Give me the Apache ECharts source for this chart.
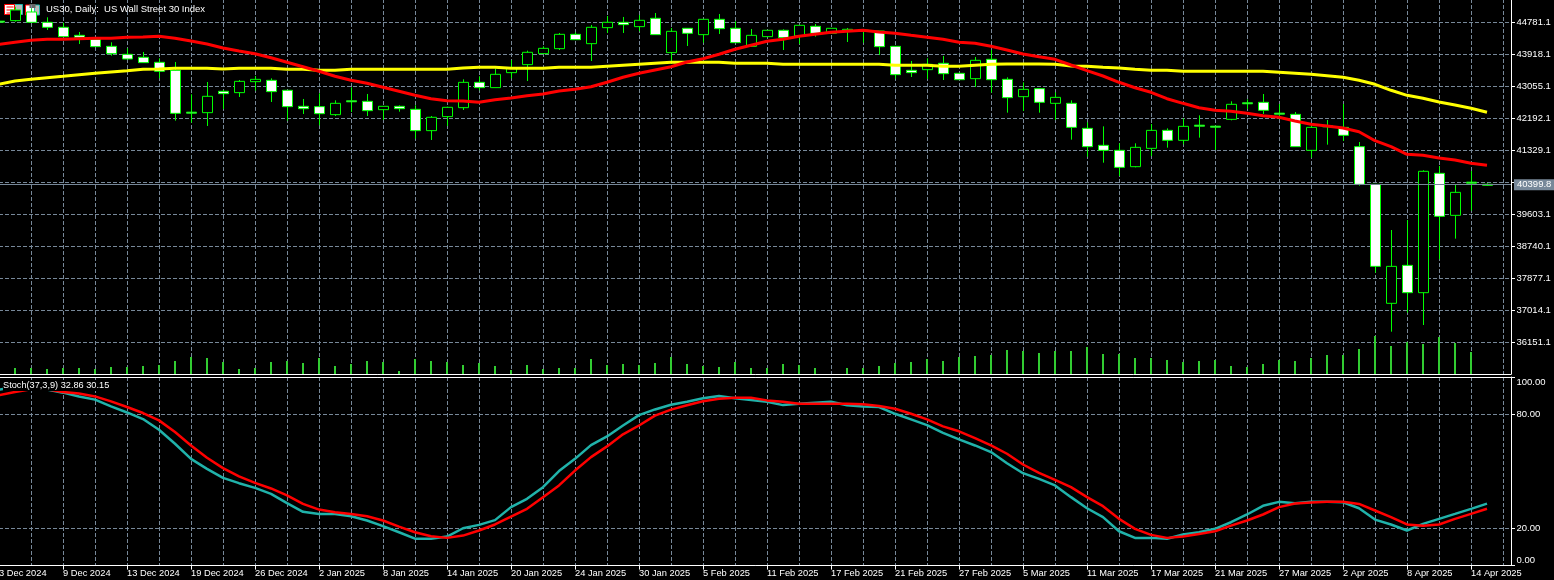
<!DOCTYPE html>
<html><head><meta charset="utf-8">
<style>html,body{margin:0;padding:0;background:#000;overflow:hidden}#c{width:1554px;height:580px}</style>
<script src="https://cdn.jsdelivr.net/npm/echarts@6/dist/echarts.min.js"></script>
</head><body><div id="c"></div>
<script>
const opens=[44812,44826,45059,44781,44646,44430,44322,44133,43918,43837,43702,43486,42358,42344,42920,42884,43180,43216,42947,42515,42506,42290,42664,42650,42425,42515,42434,41859,42237,42479,43162,43019,43423,43639,43936,44070,44457,44205,44637,44781,44664,44889,43963,44619,44448,44862,44619,44133,44394,44565,44412,44673,44484,44556,44570,44547,44133,43486,43504,43675,43405,43261,43783,43243,42775,42991,42596,42596,41921,41463,41328,40887,41382,41867,41598,42007,41980,42164,42610,42623,42331,42299,41328,41989,41948,41427,40411,37202,38226,37489,40708,39575,40470,40413];
const closes=[44785,45113,44781,44646,44394,44376,44124,43936,43792,43693,43459,42326,42331,42785,42857,43189,43243,42911,42506,42452,42317,42596,42637,42398,42515,42452,41859,42219,42488,43162,43019,43378,43540,43972,44079,44457,44313,44646,44781,44718,44835,44448,44538,44484,44862,44610,44232,44430,44565,44367,44700,44484,44619,44592,44543,44124,43369,43423,43648,43396,43234,43756,43234,42749,42973,42623,42757,41948,41427,41328,40869,41409,41867,41598,41975,41980,41953,42569,42583,42407,42304,41427,41948,41962,41733,40411,38199,38199,37489,40762,39548,40195,40443,40386];
const lows=[44785,44799,44770,44574,44394,44196,44124,43882,43792,43693,43270,42129,42075,41985,42443,42767,42938,42632,42129,42308,42003,42254,42362,42254,42147,42371,41643,41607,41985,42416,42947,43019,43270,43198,43936,44034,44304,43738,44493,44493,44538,44448,43657,44142,44232,44466,44232,44115,44394,44034,44196,44394,44484,44250,44232,43900,43261,43306,43252,43225,43225,43037,42884,42344,42389,42344,42146,41616,41157,40995,40636,40869,41175,41400,41490,41670,41337,42137,42443,42308,42164,41427,41130,41481,41580,40375,38029,36437,36950,36617,38388,38946,39701,40370];
const highs=[44812,45200,45150,44916,44772,44520,44376,44241,44079,43981,43810,43711,42839,43171,42956,43225,43333,43270,42947,42713,42866,42677,43028,42848,42515,42542,42542,42254,42506,43243,43324,43531,43765,44016,44133,44493,44511,44709,44951,44925,44978,45032,44628,44619,44862,45005,44808,44601,44565,44592,44700,44736,44619,44628,44592,44547,44142,43738,43810,43873,43423,43846,44034,43297,43162,42991,42892,42676,42083,41975,41517,41517,42038,41921,42191,42272,41984,42650,42703,42847,42578,42362,41984,42146,42578,41553,40411,39179,39449,40790,40906,40402,40771,40440];
const maRed=[44188,44242,44296,44323,44323,44339,44350,44350,44377,44385,44403,44350,44277,44196,44088,44007,43934,43826,43702,43584,43460,43325,43217,43136,43028,42920,42812,42721,42667,42659,42623,42694,42739,42801,42847,42928,42974,43044,43163,43298,43406,43495,43584,43710,43799,43918,44053,44161,44269,44323,44403,44457,44511,44538,44565,44519,44484,44430,44377,44323,44242,44215,44134,44034,43926,43853,43783,43629,43476,43333,43163,43017,42893,42721,42596,42478,42408,42381,42327,42262,42219,42119,42030,41984,41930,41831,41588,41426,41221,41194,41121,41067,40978,40924];
const maYellow=[43109,43198,43244,43287,43325,43368,43406,43441,43476,43514,43522,43540,43540,43540,43522,43540,43540,43540,43514,43514,43486,43486,43514,43514,43514,43514,43514,43514,43514,43549,43567,43567,43540,43540,43540,43567,43567,43567,43594,43621,43648,43675,43702,43702,43702,43702,43675,43675,43675,43648,43648,43648,43648,43648,43648,43648,43621,43621,43621,43594,43594,43621,43648,43656,43656,43656,43648,43603,43594,43567,43549,43514,43486,43486,43460,43460,43460,43460,43460,43460,43433,43406,43379,43341,43298,43217,43109,42947,42812,42731,42632,42551,42462,42354];
const volumes=[0,6,6,5,6,6,5,7,7,8,9,13,17,16,12,5,6,12,13,11,16,8,10,13,12,3,15,13,12,9,11,8,4,9,5,6,6,15,9,10,9,11,17,10,8,7,12,6,6,10,9,6,0,6,6,8,11,12,15,13,17,18,19,24,23,21,23,23,27,20,20,16,16,14,12,13,14,8,7,10,14,13,16,19,19,25,38,28,32,30,37,31,22,0];
const stochMain=[93.3,94.7,94.3,93.3,91.7,89.7,88,84.4,81.2,77.7,72,64.6,56.6,51.3,46.5,43.7,41.2,38,33.1,28.5,27.4,27.4,26.2,23.9,20.9,17.7,14.3,14.2,15.4,19.8,21.6,24.1,31,35.4,41.6,50.1,56.6,63.9,68.5,74.3,79.8,82.8,85.3,86.9,88.7,89.9,88.7,87.8,86.9,85.1,85.8,86.4,86.9,85,84.4,84.1,80.5,77.5,74.5,70.4,66.9,63.7,60.2,54.3,49,46,42.5,36.3,30.4,25.7,18.2,14.7,14.7,14.2,16.5,17.7,19.5,23,27.1,31.7,33.8,33.1,33.8,33.8,33.6,30.4,24.4,21.8,18.6,22.1,24.8,27.4,30.1,32.86];
const stochSignal=[90.3,92,93.5,93.5,92,91.2,89.7,87.1,84.1,80.9,77,70.8,63.7,57.2,51.7,47.3,43.9,40.9,37.2,32.7,29.7,28.3,27.4,26.2,23.9,20.7,17.7,15.6,14.7,15.9,18.6,21.8,26,30.1,36.3,42.5,50.4,57.5,63.2,69.6,74.3,79.5,82.7,85,87.1,88.5,89,89,87.6,86.9,85.8,85.8,85.8,85.8,85.5,84.6,83.2,80.5,77.5,73.8,71.2,67.6,63.7,59.3,53.6,49.2,45.5,41.6,36.3,31.5,24.8,19.5,16.3,14.7,15.4,16.8,18.2,21.2,23.9,27.1,31,32.9,33.5,33.8,33.8,32.7,29.2,25.7,21.8,21.1,21.8,24.8,27.4,30.15];
const dateLabels=["3 Dec 2024","9 Dec 2024","13 Dec 2024","19 Dec 2024","26 Dec 2024","2 Jan 2025","8 Jan 2025","14 Jan 2025","20 Jan 2025","24 Jan 2025","30 Jan 2025","5 Feb 2025","11 Feb 2025","17 Feb 2025","21 Feb 2025","27 Feb 2025","5 Mar 2025","11 Mar 2025","17 Mar 2025","21 Mar 2025","27 Mar 2025","2 Apr 2025","8 Apr 2025","14 Apr 2025"];
const priceTicks=[36151.1,37014.1,37877.1,38740.1,39603.1,41329.1,42192.1,43055.1,43918.1,44781.1];
const priceGridLines=[36151.1,37014.1,37877.1,38740.1,39603.1,40466.1,41329.1,42192.1,43055.1,43918.1,44781.1];
const stochTicks=[0,20,80,100];
const stochGridLines=[20,80];
const currentPrice=40399.8;
const lastX=94.5;

const FONT='"Liberation Sans"';
const GRID='#778899';
const dash={color:GRID,type:[4,2],width:1};
const white={show:true,onZero:false,lineStyle:{color:'#fff',width:1}};
const idx=a=>a.map((v,i)=>[i,v]);
const candleRows=opens.map((o,i)=>[i+0.03125,o,closes[i],lows[i],highs[i]]);
const xBase={type:'value',min:0,max:lastX,interval:2,axisLine:{show:false},axisTick:{show:false},axisLabel:{show:false},splitLine:{show:true,lineStyle:dash}};
const lineS=(name,data,color,w,x,y)=>({name,type:'line',data:idx(data),xAxisIndex:x,yAxisIndex:y,showSymbol:false,smooth:false,lineStyle:{color,width:w},itemStyle:{color},z:5,silent:true});

const chart=echarts.init(document.getElementById('c'),null,{renderer:'canvas',width:1554,height:580});
chart.setOption({
 animation:false,backgroundColor:'#000',
 title:[
  {text:'US30, Daily:  US Wall Street 30 Index',left:46,top:3,padding:0,textStyle:{color:'#fff',fontFamily:FONT,fontSize:9.5,fontWeight:'normal',lineHeight:12},z:20},
  {text:'Stoch(37,3,9) 32.86 30.15',left:3,top:380,padding:0,backgroundColor:'#000',textStyle:{color:'#fff',fontFamily:FONT,fontSize:9.2,fontWeight:'normal',lineHeight:11},z:20}
 ],
 grid:[
  {left:-1,top:-1,width:1512,height:375,show:false,outerBoundsMode:'none'},
  {left:-1,top:377,width:1512,height:188.6,show:false,outerBoundsMode:'none'}
 ],
 xAxis:[
  Object.assign({},xBase,{gridIndex:0,position:'bottom',axisLine:white}),
  Object.assign({},xBase,{gridIndex:1,position:'top',axisLine:white}),
  {type:'value',gridIndex:1,min:0,max:lastX,interval:4,position:'bottom',axisLine:white,splitLine:{show:false},
   axisTick:{show:true,length:4,lineStyle:{color:'#fff'}},
   axisLabel:{show:true,margin:3,align:'left',verticalAlign:'top',color:'#fff',fontFamily:FONT,fontSize:9.3,hideOverlap:false,showMinLabel:true,showMaxLabel:false,
    formatter:v=>(v%4===0&&dateLabels[v/4])||''}}
 ],
 yAxis:[
  {type:'value',gridIndex:0,position:'right',min:35295.7,max:45409.5,scale:true,
   axisLine:white,
   axisTick:{show:true,length:4,customValues:priceGridLines,lineStyle:{color:'#fff'}},
   axisLabel:{show:true,customValues:priceTicks,margin:5.5,color:'#fff',fontFamily:FONT,fontSize:9.5,formatter:v=>v.toFixed(1)},
   splitLine:{show:true,customValues:priceGridLines,lineStyle:dash}},
  {type:'value',gridIndex:0,position:'right',min:0,max:375,show:false,splitLine:{show:false}},
  {type:'value',gridIndex:1,position:'right',min:0,max:100,
   axisLine:white,
   axisTick:{show:true,length:4,customValues:stochTicks,lineStyle:{color:'#fff'}},
   axisLabel:{show:true,customValues:stochTicks,margin:5.5,color:'#fff',fontFamily:FONT,fontSize:9.5,formatter:v=>v.toFixed(2),verticalAlignMaxLabel:'top',verticalAlignMinLabel:'bottom'},
   splitLine:{show:true,customValues:stochGridLines,lineStyle:dash}}
 ],
 series:[
  {name:'Volume',type:'bar',xAxisIndex:0,yAxisIndex:1,data:idx(volumes),barWidth:2,itemStyle:{color:'#32CD32'},z:2,silent:true},
  {name:'US30',type:'candlestick',xAxisIndex:0,yAxisIndex:0,data:candleRows,barWidth:10,z:3,silent:true,
   itemStyle:{color:'#000',color0:'#fff',borderColor:'#00ff00',borderColor0:'#00ff00',borderWidth:1},
   markLine:{silent:true,symbol:'none',animation:false,precision:1,data:[{yAxis:currentPrice}],lineStyle:{color:GRID,type:'solid',width:1},
    label:{position:'end',distance:3,color:'#fff',backgroundColor:GRID,fontFamily:FONT,fontSize:9.5,padding:[1,3,0,3],formatter:()=>currentPrice.toFixed(1)}}},
  lineS('MA slow',maYellow,'#ffff00',3,0,0),
  lineS('MA fast',maRed,'#ff0000',3,0,0),
  lineS('Stoch',stochMain,'#20B2AA',2.5,1,2),
  lineS('Signal',stochSignal,'#ff0000',2.5,1,2),
  {type:'line',data:[],xAxisIndex:2,yAxisIndex:2}
 ],
 graphic:[
  {type:'group',left:4,top:4,z:30,silent:true,children:[
   {type:'rect',shape:{x:4,y:0,width:14,height:10},style:{fill:'#bbb',stroke:'#20B2AA',lineWidth:1}},
   {type:'rect',shape:{x:0,y:0,width:10,height:10},style:{fill:'#fff',stroke:'#f00',lineWidth:1}},
   {type:'rect',shape:{x:2,y:2,width:7,height:1},style:{fill:'#f00'}},
   {type:'rect',shape:{x:2,y:5,width:7,height:1},style:{fill:'#f00'}},
   {type:'rect',shape:{x:2,y:8,width:7,height:1},style:{fill:'#f00'}}
  ]},
  {type:'group',left:25,top:4,z:30,silent:true,children:[
   {type:'rect',shape:{x:0,y:0,width:9,height:10},style:{fill:'#fff',stroke:'#f00',lineWidth:1}},
   {type:'rect',shape:{x:9,y:0,width:5,height:10},style:{fill:'#bbb',stroke:'#20B2AA',lineWidth:1}},
   {type:'rect',shape:{x:4,y:-1,width:6,height:4},style:{fill:'#666'}}
  ]}
 ]
});
</script></body></html>
